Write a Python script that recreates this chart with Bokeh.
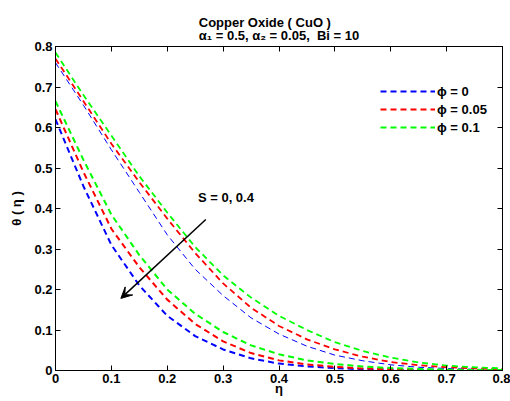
from bokeh.embed import file_html
from bokeh.models import (Arrow, CustomJSTickFormatter, FixedTicker, Label,
                          Legend, LegendItem, LinearAxis, Range1d, Title,
                          VeeHead)
from bokeh.plotting import figure
from bokeh.resources import INLINE

# similarity variable
eta = [0.00, 0.05, 0.10, 0.15, 0.20, 0.25, 0.30, 0.35, 0.40,
       0.45, 0.50, 0.55, 0.60, 0.65, 0.70, 0.75, 0.80]

# temperature profiles, S = 0
theta_s0_phi0 = [0.760, 0.655, 0.545, 0.440, 0.335, 0.250, 0.185, 0.130, 0.090,
                 0.060, 0.038, 0.024, 0.014, 0.008, 0.005, 0.003, 0.002]
theta_s0_phi005 = [0.770, 0.665, 0.560, 0.465, 0.375, 0.290, 0.215, 0.155, 0.110,
                   0.077, 0.052, 0.034, 0.021, 0.013, 0.008, 0.005, 0.003]
theta_s0_phi01 = [0.785, 0.680, 0.580, 0.480, 0.390, 0.305, 0.235, 0.180, 0.135,
                  0.100, 0.070, 0.048, 0.032, 0.020, 0.012, 0.008, 0.005]

# temperature profiles, S = 0.4
theta_s04_phi0 = [0.620, 0.455, 0.310, 0.210, 0.135, 0.085, 0.052, 0.030, 0.017,
                  0.010, 0.006, 0.003, 0.002, 0.001, 0.001, 0.000, 0.000]
theta_s04_phi005 = [0.645, 0.490, 0.350, 0.255, 0.175, 0.115, 0.072, 0.043, 0.025,
                    0.015, 0.009, 0.005, 0.003, 0.002, 0.001, 0.001, 0.000]
theta_s04_phi01 = [0.665, 0.520, 0.385, 0.285, 0.200, 0.140, 0.095, 0.062, 0.040,
                   0.025, 0.016, 0.010, 0.006, 0.004, 0.002, 0.001, 0.001]

legend_labels = ["ϕ = 0", "ϕ = 0.05", "ϕ = 0.1"]
colors = ["#0000ff", "#ff0000", "#00ff00"]
x_ticks = [0, 0.1, 0.2, 0.3, 0.4, 0.5, 0.6, 0.7, 0.8]
y_ticks = [0, 0.1, 0.2, 0.3, 0.4, 0.5, 0.6, 0.7, 0.8]

FONT = "Liberation Sans"

p = figure(width=510, height=401, output_backend="svg", toolbar_location=None,
           x_range=Range1d(0, 0.8), y_range=Range1d(0, 0.8),
           min_border_left=55, min_border_right=8, min_border_top=46,
           min_border_bottom=31, x_axis_type=None, y_axis_type=None)
p.title.visible = False
p.background_fill_color = "white"
p.border_fill_color = "white"
p.outline_line_color = "black"
p.outline_line_width = 1
p.xgrid.visible = False
p.ygrid.visible = False


def style_axis(ax, ticks, show_labels):
    ax.ticker = FixedTicker(ticks=ticks)
    ax.minor_tick_line_color = None
    ax.major_tick_in = 5
    ax.major_tick_out = 0
    ax.axis_line_color = "black"
    ax.major_tick_line_color = "black"
    ax.major_label_text_font = FONT
    ax.major_label_text_font_style = "bold"
    ax.major_label_text_font_size = "13px"
    ax.major_label_text_color = "black"
    ax.axis_label_text_font = FONT
    ax.axis_label_text_font_style = "bold"
    ax.axis_label_text_font_size = "13px"
    ax.axis_label_text_color = "black"
    if show_labels:
        ax.major_label_standoff = 3
    else:
        ax.major_label_standoff = 0
        ax.formatter = CustomJSTickFormatter(code="return ''")


bottom = LinearAxis(axis_label="η", axis_label_standoff=-5)
style_axis(bottom, x_ticks, True)
left = LinearAxis(axis_label="θ ( η )", axis_label_standoff=7)
style_axis(left, y_ticks, True)
top = LinearAxis()
style_axis(top, x_ticks, False)
right = LinearAxis()
style_axis(right, y_ticks, False)
p.add_layout(bottom, "below")
p.add_layout(left, "left")
p.add_layout(top, "above")
p.add_layout(right, "right")

# two-line heading
p.add_layout(Title(text="Copper Oxide ( CuO )\nα₁ = 0.5, α₂ = 0.05,\u00a0 Bi = 10",
                   align="center", text_font=FONT, text_font_style="bold",
                   text_font_size="13px", text_line_height=0.88,
                   text_color="black", standoff=7, offset=0), "above")

upper = [theta_s0_phi0, theta_s0_phi005, theta_s0_phi01]
lower = [theta_s04_phi0, theta_s04_phi005, theta_s04_phi01]
upper_widths = [1, 1.8, 1.8]

items = []
for th, c, w in zip(upper, colors, upper_widths):
    p.line(eta, th, line_color=c, line_width=w, line_dash="6 4")
for th, c, lab in zip(lower, colors, legend_labels):
    r = p.line(eta, th, line_color=c, line_width=2, line_dash="6 4")
    items.append(LegendItem(label=lab, renderers=[r]))

legend = Legend(items=items, location=(325, 234), border_line_color=None,
                background_fill_alpha=0, padding=0, margin=0, spacing=0,
                glyph_width=55, glyph_height=18, label_height=18,
                label_standoff=2, label_text_font=FONT,
                label_text_font_style="bold", label_text_font_size="13px",
                label_text_color="black")
p.add_layout(legend, "center")

# arrow showing the direction of increasing S
p.add_layout(Arrow(x_start=0.269, y_start=0.373, x_end=0.117, y_end=0.178,
                   line_color="black", line_width=1.5,
                   end=VeeHead(size=11, fill_color="black", line_color="black")))
p.add_layout(Label(x=0.305, y=0.427, text="S = 0, 0.4", text_font=FONT,
                   text_font_style="bold", text_font_size="13px",
                   text_color="black", text_align="center",
                   text_baseline="middle"))

open("out.html", "w").write(file_html(p, INLINE))
